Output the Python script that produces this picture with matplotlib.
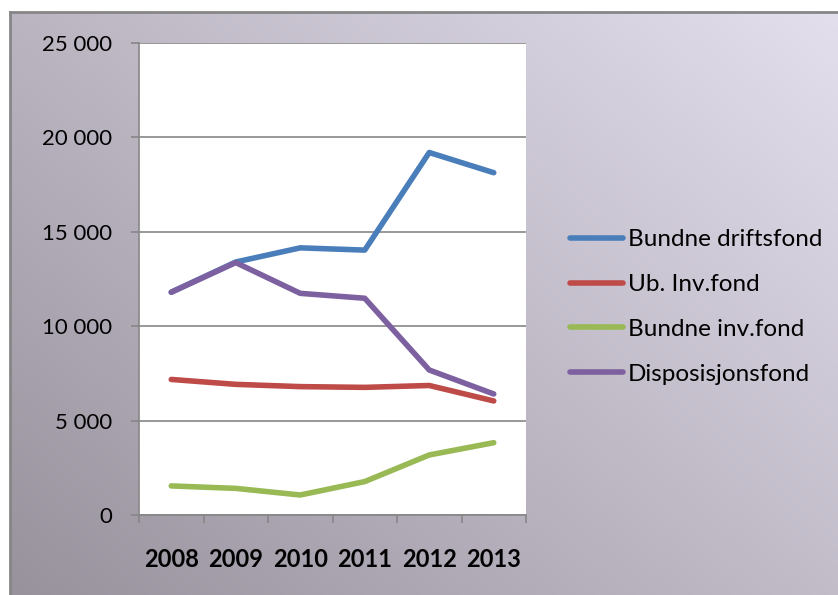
import numpy as np
import matplotlib.pyplot as plt
from matplotlib.ticker import FuncFormatter

years = ["2008", "2009", "2010", "2011", "2012", "2013"]
bundne_drift = [11800, 13400, 14150, 14030, 19200, 18130]
ub_inv = [7180, 6920, 6800, 6760, 6860, 6040]
bundne_inv = [1540, 1410, 1060, 1770, 3180, 3830]
disposisjon = [11800, 13370, 11740, 11480, 7680, 6410]

names = ["Bundne driftsfond", "Ub. Inv.fond", "Bundne inv.fond", "Disposisjonsfond"]
colors = ["#4A7EBB", "#BE4B48", "#98B954", "#7D60A0"]

plt.rcParams['font.family'] = ['Lato', 'DejaVu Sans']

fig = plt.figure(figsize=(8.38, 5.95), dpi=100)
fig.patch.set_facecolor("white")

# gradient background with border (dark bottom-left, light top-right)
bg = fig.add_axes([10/838, 0, 1 - 10/838, 1 - 12/595], zorder=0)
gx, gy = np.meshgrid(np.linspace(0, 1, 200), np.linspace(0, 1, 200))
t = gx * 0.55 + gy * 0.45
light = np.array([228, 223, 237]) / 255
dark = np.array([152, 146, 157]) / 255
img = dark[None, None, :] * (1 - t[..., None]) + light[None, None, :] * t[..., None]
bg.imshow(img, extent=[0, 1, 0, 1], aspect="auto", origin="lower")
bg.set_xticks([])
bg.set_yticks([])
for s in ["right", "bottom"]:
    bg.spines[s].set_visible(False)
for s in ["left", "top"]:
    bg.spines[s].set_color("#868686")
    bg.spines[s].set_linewidth(2)

ax = fig.add_axes([139/838, 1 - 515/595, (526 - 139)/838, (515 - 43)/595], zorder=1)
ax.set_facecolor("white")
x = np.arange(len(years))
for vals, name, c in zip([bundne_drift, ub_inv, bundne_inv, disposisjon], names, colors):
    ax.plot(x, vals, color=c, lw=4, label=name, solid_capstyle="round", solid_joinstyle="round")

ax.set_xlim(-0.5, len(years) - 0.5)
ax.set_ylim(0, 25000)
ax.set_yticks(np.arange(0, 25001, 5000))
ax.yaxis.set_major_formatter(FuncFormatter(lambda v, p: f"{int(v):,}".replace(",", " ")))
ax.grid(axis="y", color="#868686", lw=1.2)
ax.set_axisbelow(True)

ax.set_xticks(x)
ax.set_xticklabels(years, fontweight="bold", fontsize=17)
ax.set_xticks(np.arange(-0.5, len(years)), minor=True)
ax.tick_params(axis="x", which="major", length=0, pad=24)
ax.tick_params(axis="x", which="minor", length=6, color="#868686", width=1.2)
ax.tick_params(axis="y", length=6, color="#868686", width=1.2, pad=13, labelsize=16)

for s in ["top", "right"]:
    ax.spines[s].set_visible(False)
for s in ["left", "bottom"]:
    ax.spines[s].set_color("#868686")
    ax.spines[s].set_linewidth(1.2)

leg = fig.legend(loc="center left", bbox_to_anchor=(548/838, 1 - 307/595), frameon=False,
                 fontsize=17.5, handlelength=2.2, handletextpad=0.2, labelspacing=0.98)

fig.savefig("out.png", dpi=100)
